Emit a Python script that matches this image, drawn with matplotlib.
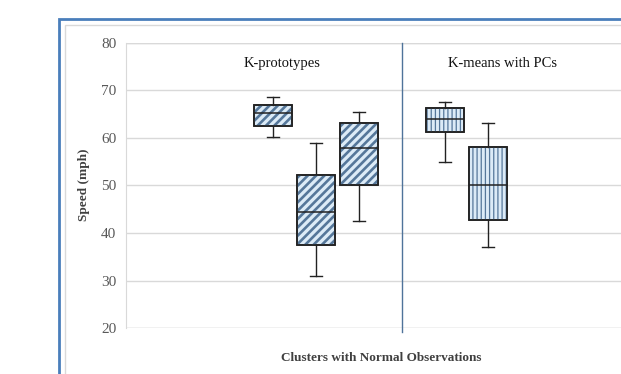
import matplotlib
matplotlib.use("Agg")
import matplotlib.pyplot as plt
from matplotlib.patches import PathPatch, Rectangle

# --- data ---
kp_pos = [1, 2, 3]
kp_low = [60.1, 31.0, 42.5]
kp_q1 = [62.6, 37.4, 50.2]
kp_med = [65.2, 44.4, 57.9]
kp_q3 = [67.0, 52.2, 63.1]
kp_high = [68.5, 58.9, 65.4]

km_pos = [5, 6]
km_low = [55.0, 37.1]
km_q1 = [61.2, 42.7]
km_med = [64.0, 50.2]
km_q3 = [66.2, 58.1]
km_high = [67.5, 63.1]

group_titles = ["K-prototypes", "K-means with PCs"]
yticks = [20, 30, 40, 50, 60, 70, 80]

SERIF = ["Liberation Serif", "DejaVu Serif"]
FACE = "#dcebf7"
HATCH_C = "#55779a"

def stats(low, q1, med, q3, high):
    return [dict(whislo=a, q1=b, med=c, q3=d, whishi=e, fliers=[])
            for a, b, c, d, e in zip(low, q1, med, q3, high)]

fig = plt.figure(figsize=(6.21, 3.74), dpi=100)
ax = fig.add_axes([126 / 621, 1 - 328.3 / 374, 1 - 126 / 621, (328.3 - 42.7) / 374])

def draw(bstats, pos, hatch, hlw):
    bp = ax.bxp(bstats, positions=pos, widths=0.9, patch_artist=True,
                showfliers=False, capwidths=0.27,
                boxprops=dict(facecolor=FACE, edgecolor="#222222", linewidth=1.2),
                medianprops=dict(color="#222222", linewidth=1.1),
                whiskerprops=dict(color="#222222", linewidth=1.0),
                capprops=dict(color="#222222", linewidth=1.0))
    for b in bp["boxes"]:
        with plt.rc_context({"hatch.linewidth": hlw, "hatch.color": HATCH_C}):
            h = PathPatch(b.get_path(), facecolor="none", edgecolor=HATCH_C,
                          linewidth=0, hatch=hatch, zorder=2.05)
        if hasattr(h, "set_hatch_linewidth"):
            h.set_hatch_linewidth(hlw)
        ax.add_patch(h)
        ax.add_patch(PathPatch(b.get_path(), facecolor="none", edgecolor="#222222",
                               linewidth=1.2, zorder=2.1))
    for m in bp["medians"]:
        m.set_zorder(2.2)

draw(stats(kp_low, kp_q1, kp_med, kp_q3, kp_high), kp_pos, "////", 1.9)
draw(stats(km_low, km_q1, km_med, km_q3, km_high), km_pos, "||||", 0.9)

# separator between the two methods
ax.plot([4, 4], [19.2, 80], color="#4f739a", linewidth=1.0, clip_on=False, zorder=3)

ax.text(1.21, 75.6, group_titles[0], ha="center", va="center", fontsize=10.5,
        family=SERIF, color="#111111")
ax.text(6.33, 75.6, group_titles[1], ha="center", va="center", fontsize=10.5,
        family=SERIF, color="#111111")

ax.set_xlim(-2.42, 9.09)
ax.set_ylim(20, 80)
ax.set_yticks(yticks)
ax.set_yticklabels([str(t) for t in yticks], family=SERIF, fontsize=11, color="#595959")
ax.set_xticks([])
ax.tick_params(axis="y", length=0, pad=7)
ax.grid(axis="y", color="#d9d9d9", linewidth=1.0)
ax.set_axisbelow(True)
for s in ["top", "right", "bottom"]:
    ax.spines[s].set_visible(False)
ax.spines["left"].set_color("#d9d9d9")
ax.axhline(80, color="#d9d9d9", linewidth=1.0, zorder=0.5)
ax.axhline(20, color="#d9d9d9", linewidth=1.0, zorder=0.5)

fig.text(84 / 621, 1 - 185 / 374, "Speed (mph)", rotation=90, ha="center", va="center",
         fontsize=9.5, fontweight="bold", family=SERIF, color="#404040")
fig.text(381 / 621, 1 - 358 / 374, "Clusters with Normal Observations", ha="center",
         va="center", fontsize=9.5, fontweight="bold", family=SERIF, color="#404040")

# chart frames
fig.patches.append(Rectangle((65 / 621, -0.1), 1.0, 1 - 25 / 374 + 0.1, transform=fig.transFigure,
                             fill=False, edgecolor="#d9d9d9", linewidth=1.0))
fig.patches.append(Rectangle((58.6 / 621, -0.1), 1.0, 1 - 19 / 374 + 0.1, transform=fig.transFigure,
                             fill=False, edgecolor="#4a7ebb", linewidth=2.0))

fig.savefig("out.png", dpi=100)
